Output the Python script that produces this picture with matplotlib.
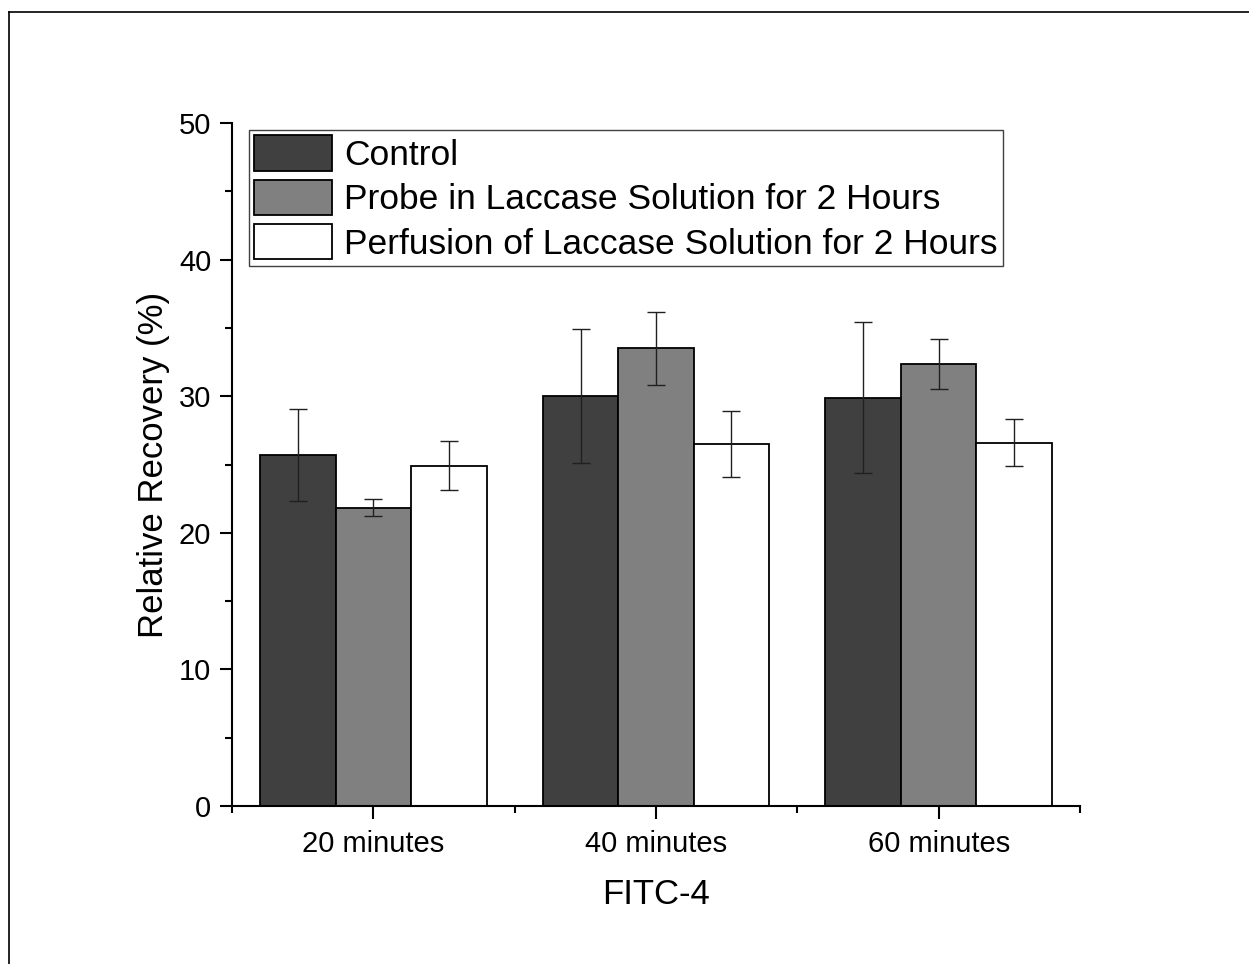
import matplotlib.pyplot as plt
import numpy as np
from matplotlib.lines import Line2D

plt.rcParams['font.family'] = ['Liberation Sans', 'DejaVu Sans']

times = ["20 minutes", "40 minutes", "60 minutes"]
groups = ["Control", "Probe in Laccase Solution for 2 Hours",
          "Perfusion of Laccase Solution for 2 Hours"]
control = [25.7, 30.0, 29.9]
control_err = [3.35, 4.9, 5.5]
probe = [21.85, 33.5, 32.35]
probe_err = [0.65, 2.7, 1.85]
perfusion = [24.9, 26.5, 26.6]
perfusion_err = [1.8, 2.4, 1.7]

colors = ["#404040", "#808080", "#ffffff"]

fig = plt.figure(figsize=(12.49, 9.64), dpi=100)
ax = fig.add_axes([232/1249, 1-806/964, (1080-232)/1249, (806-123)/964])

x = np.arange(1, 4)
w = 0.267
series = [(control, control_err), (probe, probe_err), (perfusion, perfusion_err)]
for i, (vals, errs) in enumerate(series):
    ax.bar(x + (i - 1) * w, vals, w, color=colors[i], edgecolor='black',
           linewidth=1.3, label=groups[i], zorder=2)
    ax.errorbar(x + (i - 1) * w, vals, yerr=errs, fmt='none', ecolor='#202020',
                elinewidth=1.0, capsize=6.5, capthick=1.0, zorder=3)

ax.set_xlim(0.5, 3.5)
ax.set_ylim(0, 50)
ax.set_xticks(x)
ax.set_xticklabels(times)
ax.set_xticks([0.5, 1.5, 2.5, 3.5], minor=True)
ax.set_yticks(range(0, 51, 10))
ax.set_yticks(range(5, 50, 10), minor=True)

for s in ['top', 'right']:
    ax.spines[s].set_visible(False)
for s in ['left', 'bottom']:
    ax.spines[s].set_linewidth(1.5)

ax.tick_params(axis='both', which='major', labelsize=21, width=1.5, length=9, direction='out')
ax.tick_params(axis='both', which='minor', width=1.5, length=5, direction='out')
ax.tick_params(axis='x', which='major', pad=8)
ax.tick_params(axis='y', which='major', pad=6)

ax.set_xlabel("FITC-4", fontsize=25, labelpad=15)
ax.set_ylabel("Relative Recovery (%)", fontsize=25, labelpad=6)

leg = ax.legend(loc='upper left', bbox_to_anchor=(249/1249, 1-130/964),
                bbox_transform=fig.transFigure, borderaxespad=0,
                fontsize=25.5, handlelength=2.2, handleheight=1.17,
                labelspacing=0.21, handletextpad=0.33, borderpad=0.15,
                fancybox=False, framealpha=1)
leg.get_frame().set_edgecolor('#404040')
leg.get_frame().set_linewidth(1.0)

fig.add_artist(Line2D([9/1249, 9/1249], [0, 1-12/964], transform=fig.transFigure,
                      color='black', linewidth=1.2))
fig.add_artist(Line2D([9/1249, 1], [1-12/964, 1-12/964], transform=fig.transFigure,
                      color='black', linewidth=1.2))

fig.savefig("out.png", dpi=100)
